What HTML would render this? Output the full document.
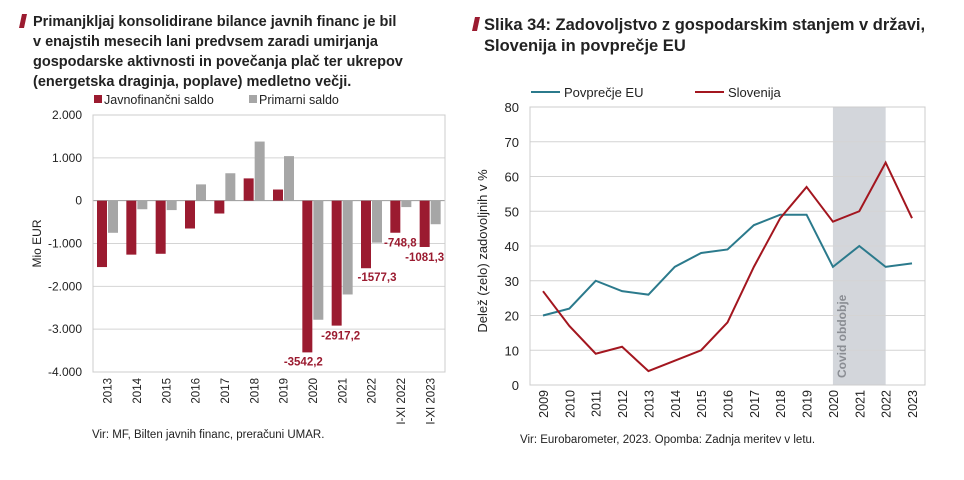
<!DOCTYPE html>
<html><head><meta charset="utf-8"><style>
body{margin:0;background:#fff;width:964px;height:475px;overflow:hidden;font-family:"Liberation Sans",sans-serif}
</style></head><body>
<svg width="964" height="475" xmlns="http://www.w3.org/2000/svg" font-family="Liberation Sans, sans-serif">
<g>
<polygon points="22,14 27,14 24,28 19,28" fill="#9b1b30"/>
<text x="33" y="26" font-size="14.5" font-weight="bold" fill="#222">Primanjkljaj konsolidirane bilance javnih financ je bil</text>
<text x="33" y="46" font-size="14.5" font-weight="bold" fill="#222">v enajstih mesecih lani predvsem zaradi umirjanja</text>
<text x="33" y="66" font-size="14.5" font-weight="bold" fill="#222">gospodarske aktivnosti in povečanja plač ter ukrepov</text>
<text x="33" y="86" font-size="14.5" font-weight="bold" fill="#222">(energetska draginja, poplave) medletno večji.</text>
</g>
<g>
<rect x="94" y="95" width="8" height="8" fill="#9b1b30"/>
<text x="104" y="104" font-size="12.5" fill="#222">Javnofinančni saldo</text>
<rect x="249" y="95" width="8" height="8" fill="#a6a6a6"/>
<text x="259" y="104" font-size="12.5" fill="#222">Primarni saldo</text>
</g>
<g id="left"></g>
<text x="92" y="438" font-size="11.5" fill="#222">Vir: MF, Bilten javnih financ, preračuni UMAR.</text>

<g>
<polygon points="475,17 480,17 477,31 472,31" fill="#9b1b30"/>
<text x="484" y="30" font-size="16.5" font-weight="bold" fill="#222">Slika 34: Zadovoljstvo z gospodarskim stanjem v državi,</text>
<text x="484" y="51" font-size="16.5" font-weight="bold" fill="#222">Slovenija in povprečje EU</text>
</g>
<g>
<line x1="531" y1="92" x2="560" y2="92" stroke="#2b7a8c" stroke-width="2"/>
<text x="564" y="97" font-size="13" fill="#222">Povprečje EU</text>
<line x1="695" y1="92" x2="724" y2="92" stroke="#a3161f" stroke-width="2"/>
<text x="728" y="97" font-size="13" fill="#222">Slovenija</text>
</g>
<g id="right"></g>
<text x="520" y="443" font-size="11.5" fill="#222">Vir: Eurobarometer, 2023. Opomba:  Zadnja meritev v letu.</text>
</svg>
<script>
const barCats=["2013","2014","2015","2016","2017","2018","2019","2020","2021","2022","I-XI 2022","I-XI 2023"];
const balance=[-1550,-1260,-1240,-650,-300,520,260,-3542.2,-2917.2,-1577.3,-748.8,-1081.3];
const primary=[-750,-200,-220,380,640,1380,1040,-2780,-2190,-980,-150,-550];
const barTicks=[2000,1000,0,-1000,-2000,-3000,-4000];
const barLabels=["2.000","1.000","0","-1.000","-2.000","-3.000","-4.000"];
const labelled=[7,8,9,10,11];

const years=["2009","2010","2011","2012","2013","2014","2015","2016","2017","2018","2019","2020","2021","2022","2023"];
const eu=[20,22,30,27,26,34,38,39,46,49,49,34,40,34,35];
const si=[27,17,9,11,4,7,10,18,34,48,57,47,50,64,48];
const lineTicks=[0,10,20,30,40,50,60,70,80];
const covidStart="2020", covidEnd="2022";

const NS="http://www.w3.org/2000/svg";
function mk(p,t,a){const e=document.createElementNS(NS,t);for(const k in a)e.setAttribute(k,a[k]);p.appendChild(e);return e;}

// left chart
const L=document.getElementById('left');
const lx0=93,lx1=445,ly0=115,ly1=372;
const ly=v=>ly0+(2000-v)/6000*(ly1-ly0);
const cw=(lx1-lx0)/barCats.length;
barTicks.forEach((t,i)=>{
 const g=mk(L,'line',{x1:lx0,x2:lx1,y1:ly(t),y2:ly(t),stroke:t===0?'#999':'#d4d4d4','stroke-width':1});
 
 
 const tx=mk(L,'text',{x:82,y:ly(t)+4,'font-size':12,'text-anchor':'end',fill:'#222'});tx.textContent=barLabels[i];
 
 
});
const fr=mk(L,'rect',{x:lx0,y:ly0,width:lx1-lx0,height:ly1-ly0,fill:'none',stroke:'#ccc'});


const yt=mk(L,'text',{x:0,y:0,'font-size':12,fill:'#222','text-anchor':'middle',transform:`translate(41,${(ly0+ly1)/2}) rotate(-90)`});yt.textContent='Mio EUR';


barCats.forEach((c,i)=>{
 const cx=lx0+cw*i;
 [[balance[i],'#9b1b30',cx+4],[primary[i],'#a6a6a6',cx+15]].forEach(([v,col,x],k)=>{
  const y=Math.min(ly(0),ly(v)),h=Math.abs(ly(v)-ly(0));
  const r=mk(L,'rect',{x:x,y:y,width:10,height:h,fill:col});
  
  
 });
 const t=mk(L,'text',{x:0,y:0,'font-size':11.5,fill:'#222','text-anchor':'end',transform:`translate(${cx+cw/2+4},378) rotate(-90)`});t.textContent=c;
 
 
});
const labelOffsets={7:[-4,13],8:[4,14],9:[11,13],10:[5,14],11:[0,14]};
labelled.forEach(i=>{
 const v=balance[i];const cx=lx0+cw*i+9;
 const [dx,dy]=labelOffsets[i];
 const t=mk(L,'text',{x:cx+dx,y:ly(v)+dy,'font-size':11.5,'font-weight':'bold',fill:'#9b1b30','text-anchor':'middle'});
 t.textContent=String(v).replace('.',',');
 
 
});

// right chart
const R=document.getElementById('right');
const rx0=530,rx1=925,ry0=107,ry1=385;
const px0=543,px1=912;
const rxf=i=>px0+(px1-px0)*i/(years.length-1);
const ryf=v=>ry1-(v/80)*(ry1-ry0);
const band=mk(R,'rect',{x:rxf(years.indexOf(covidStart)),y:ry0,width:rxf(years.indexOf(covidEnd))-rxf(years.indexOf(covidStart)),height:ry1-ry0,fill:'#d3d6db'});


lineTicks.forEach(t=>{
 const g=mk(R,'line',{x1:rx0,x2:rx1,y1:ryf(t),y2:ryf(t),stroke:'#d4d4d4'});
 
 
 const tx=mk(R,'text',{x:519,y:ryf(t)+5,'font-size':13,'text-anchor':'end',fill:'#222'});tx.textContent=t;
 
 
});
const fr2=mk(R,'rect',{x:rx0,y:ry0,width:rx1-rx0,height:ry1-ry0,fill:'none',stroke:'#ccc'});


const ct=mk(R,'text',{x:0,y:0,'font-size':12,fill:'#8a8d93','font-weight':'bold',transform:`translate(846,378) rotate(-90)`});ct.textContent='Covid obdobje';


const yt2=mk(R,'text',{x:0,y:0,'font-size':13,fill:'#222','text-anchor':'middle',transform:`translate(487,${(ry0+ry1)/2+5}) rotate(-90)`});yt2.textContent='Delež (zelo) zadovoljnih  v %';


years.forEach((y,i)=>{
 const t=mk(R,'text',{x:0,y:0,'font-size':12.5,fill:'#222','text-anchor':'end',transform:`translate(${rxf(i)+5},390) rotate(-90)`});t.textContent=y;
 
 
});
const pe=mk(R,'polyline',{points:eu.map((v,i)=>rxf(i)+','+ryf(v)).join(' '),fill:'none',stroke:'#2b7a8c','stroke-width':2});


const ps=mk(R,'polyline',{points:si.map((v,i)=>rxf(i)+','+ryf(v)).join(' '),fill:'none',stroke:'#a3161f','stroke-width':2});


</script>
</body></html>
